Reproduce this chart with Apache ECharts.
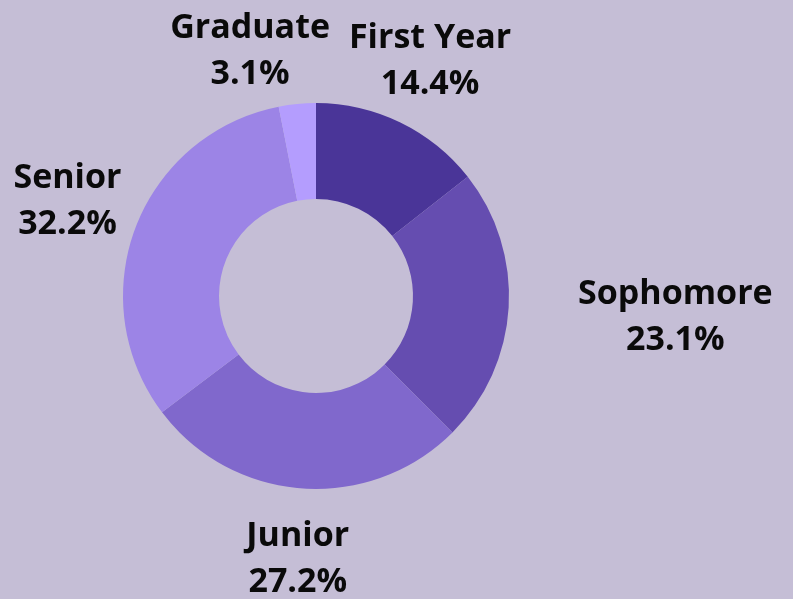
<!DOCTYPE html>
<html>
<head>
<meta charset="utf-8">
<script src="https://cdn.jsdelivr.net/npm/echarts@6/dist/echarts.min.js"></script>
<style>
  html, body { margin: 0; padding: 0; background: #c5bed6; }
  #chart { width: 793px; height: 599px; }
</style>
</head>
<body>
<div id="chart"></div>
<script>
const classes = ['First Year', 'Sophomore', 'Junior', 'Senior', 'Graduate']
const shares = [14.4, 23.1, 27.2, 32.2, 3.1]
const sliceColors = ['#4a3598', '#654db0', '#8068cc', '#9c84e6', '#b49dfe']

// label distance from centre, and a sideways nudge so Graduate clears First Year
const labelDist = [261, 360, 264, 266, 246]
const labelNudge = [0, 0, 0, 0, -42]

const cx = 316
const cy = 296
const total = shares.reduce((a, b) => a + b, 0)
let acc = 0
const midAngles = shares.map((v) => {
  const mid = acc + v / 2
  acc += v
  return (mid / total) * Math.PI * 2
})

const chart = echarts.init(document.getElementById('chart'))
chart.setOption({
  backgroundColor: '#c5bed6',
  animation: false,
  series: [
    {
      type: 'pie',
      center: [cx, cy],
      radius: [97, 193],
      startAngle: 90,
      clockwise: true,
      data: classes.map((name, i) => ({
        name,
        value: shares[i],
        itemStyle: { color: sliceColors[i] },
      })),
      label: {
        show: true,
        formatter: (p) => p.name + '\n' + p.value.toFixed(1) + '%',
        fontFamily: 'Open Sans',
        fontWeight: 'bold',
        fontSize: 34,
        lineHeight: 46,
        color: '#0a0a0a',
        align: 'center',
        overflow: 'none',
      },
      labelLine: { show: false },
      labelLayout: (params) => {
        const i = params.dataIndex
        const a = midAngles[i]
        return {
          x: cx + Math.sin(a) * labelDist[i] + labelNudge[i],
          y: cy - Math.cos(a) * labelDist[i],
          align: 'center',
          verticalAlign: 'middle',
        }
      },
    },
  ],
})
</script>
</body>
</html>
